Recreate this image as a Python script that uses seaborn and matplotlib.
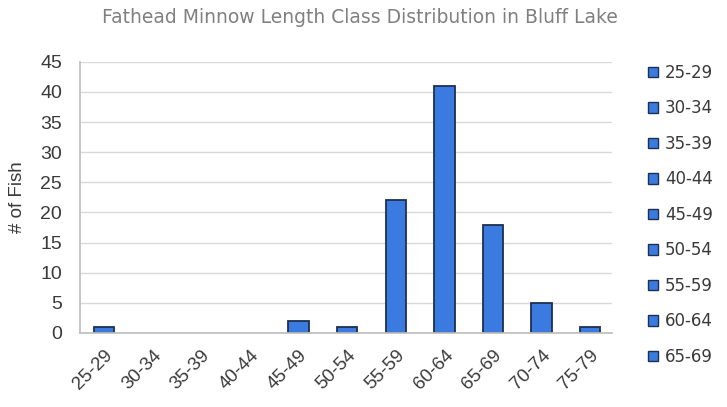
import matplotlib
matplotlib.use("Agg")
import matplotlib.pyplot as plt
import seaborn as sns
import pandas as pd
from matplotlib.patches import Patch

categories = ["25-29", "30-34", "35-39", "40-44", "45-49", "50-54",
              "55-59", "60-64", "65-69", "70-74", "75-79"]
fish_counts = [1, 0, 0, 0, 2, 1, 22, 41, 18, 5, 1]
y_ticks = [0, 5, 10, 15, 20, 25, 30, 35, 40, 45]
legend_labels = categories[:9]

title = "Fathead Minnow Length Class Distribution in Bluff Lake"
y_label = "# of Fish"

bar_color = "#3b7be0"
edge_color = "#1c3050"
text_color = "#3a3a3a"

df = pd.DataFrame({"cls": categories, "n": fish_counts})

sns.set_theme(style="white")
plt.rcParams["font.family"] = ["Liberation Sans", "DejaVu Sans"]

fig = plt.figure(figsize=(7.27, 4.07), dpi=100)
ax = fig.add_axes([0.110, 0.182, 0.732, 0.666])

sns.barplot(data=df, x="cls", y="n", hue="cls",
            palette=[bar_color] * len(categories), saturation=1,
            width=0.42, edgecolor=edge_color, linewidth=1.3,
            legend=False, ax=ax)
for p in ax.patches:
    if p.get_height() == 0:
        p.set_linewidth(0)

ax.set_ylim(0, 45)
ax.set_yticks(y_ticks)
ax.set_xlim(-0.5, len(categories) - 0.55)
ax.yaxis.grid(True, color="#d9d9d9", linewidth=1)
ax.set_axisbelow(True)
for s in ["top", "right"]:
    ax.spines[s].set_visible(False)
ax.spines["left"].set_color("#bfbfbf")
ax.spines["bottom"].set_color("#bfbfbf")
ax.tick_params(axis="y", labelsize=14, colors=text_color, length=0, pad=13)
ax.tick_params(axis="x", labelsize=13.5, colors=text_color, length=0, pad=10)
plt.setp(ax.get_xticklabels(), rotation=45, ha="right", rotation_mode="anchor")
ax.set_xlabel("")
ax.set_ylabel(y_label, fontsize=13.5, color=text_color, labelpad=10)
fig.text(0.495, 0.956, title, ha="center", va="center", fontsize=13.5,
         color="#808080", family="DejaVu Sans")

handles = [Patch(facecolor=bar_color, edgecolor=edge_color, linewidth=1)
           for _ in legend_labels]
leg = fig.legend(handles, legend_labels, loc="upper left",
                 bbox_to_anchor=(0.892, 0.843), frameon=False,
                 prop={"family": "DejaVu Sans", "size": 12},
                 labelspacing=1.05, handlelength=0.6,
                 handleheight=0.6, handletextpad=0.4, borderaxespad=0,
                 borderpad=0)
for t in leg.get_texts():
    t.set_color(text_color)

fig.savefig("out.png", dpi=100, facecolor="white")
